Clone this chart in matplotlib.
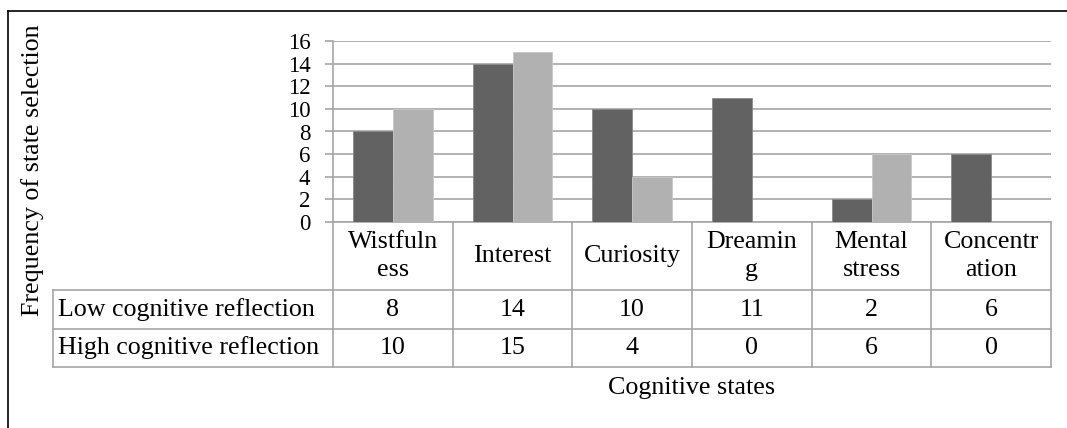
import numpy as np
import matplotlib
matplotlib.use("Agg")
import matplotlib.pyplot as plt
from matplotlib.lines import Line2D
import matplotlib.transforms as mtransforms

# data
categories = ["Wistfuln\ness", "Interest", "Curiosity", "Dreamin\ng", "Mental\nstress", "Concentr\nation"]
series_names = ["Low cognitive reflection", "High cognitive reflection"]
low_vals = [8, 14, 10, 11, 2, 6]
high_vals = [10, 15, 4, 0, 6, 0]
yticks = [0, 2, 4, 6, 8, 10, 12, 14, 16]

plt.rcParams["font.family"] = ["Liberation Serif", "DejaVu Serif"]
FS = 18.7
FS_TICK = 16.5
W, H = 1067, 428
grid_col = "#a6a6a6"
dark = "#626262"
light = "#b1b1b1"

fig = plt.figure(figsize=(W / 100, H / 100), dpi=100)

def fx(x):
    return x / W

def fy(y):
    return 1 - y / H

ax = fig.add_axes([fx(333), fy(222), (1051 - 333) / W, (222 - 41) / H])
x = np.arange(len(categories))
bw = 0.334
ax.bar(x - bw / 2, low_vals, bw, color=dark, edgecolor="#8a8a8a", linewidth=0.6, zorder=3)
ax.bar(x + bw / 2, high_vals, bw, color=light, edgecolor="#c8c8c8", linewidth=0.6, zorder=3)
ax.set_xlim(-0.5, len(categories) - 0.5)
ax.set_ylim(0, 16)
ax.set_yticks(yticks)
ax.set_yticklabels([str(t) for t in yticks], fontsize=FS_TICK)
ax.tick_params(axis="y", length=5.8, width=1.2, color=grid_col, pad=10.5)
ax.tick_params(axis="x", length=0, labelbottom=False)
ax.yaxis.grid(True, color=grid_col, linewidth=1.2, zorder=0)
ax.set_axisbelow(True)
for s in ["top", "right"]:
    ax.spines[s].set_visible(False)
for s in ["left", "bottom"]:
    ax.spines[s].set_color(grid_col)
    ax.spines[s].set_linewidth(1.2)

# data table under the axis
tr = mtransforms.blended_transform_factory(ax.transData, fig.transFigure)
left_data = -0.5 - (333 - 53) / ((1051 - 333) / len(categories))
xr = len(categories) - 0.5
y_top, y_h, y_r1, y_r2 = fy(222), fy(290), fy(329), fy(367)

def tline(xs, ys):
    fig.add_artist(Line2D(xs, ys, transform=tr, color=grid_col, linewidth=1.2, clip_on=False))

for i in range(len(categories) + 1):
    tline([i - 0.5, i - 0.5], [y_top, y_r2])
for yy in [y_h, y_r1, y_r2]:
    tline([left_data, xr], [yy, yy])
tline([left_data, left_data], [y_h, y_r2])

for i, c in enumerate(categories):
    fig.text(i, (y_top + y_h) / 2, c, transform=tr, ha="center", va="center",
             fontsize=FS, linespacing=1.35)
    fig.text(i, (y_h + y_r1) / 2, str(low_vals[i]), transform=tr, ha="center", va="center", fontsize=FS)
    fig.text(i, (y_r1 + y_r2) / 2, str(high_vals[i]), transform=tr, ha="center", va="center", fontsize=FS)

fig.text(fx(58), (y_h + y_r1) / 2, series_names[0], ha="left", va="center", fontsize=FS)
fig.text(fx(58), (y_r1 + y_r2) / 2, series_names[1], ha="left", va="center", fontsize=FS)

fig.text(fx(692), fy(388), "Cognitive states", ha="center", va="center", fontsize=FS)
fig.text(fx(33), fy(170), "Frequency of state selection", ha="center", va="center",
         rotation=90, fontsize=FS)

# outer frame (only top and left visible)
fig.add_artist(Line2D([fx(8), 1], [fy(11), fy(11)], transform=fig.transFigure, color="black", linewidth=1.2))
fig.add_artist(Line2D([fx(8), fx(8)], [fy(11), 0], transform=fig.transFigure, color="black", linewidth=1.2))

fig.savefig("out.png", dpi=100, facecolor="white")
